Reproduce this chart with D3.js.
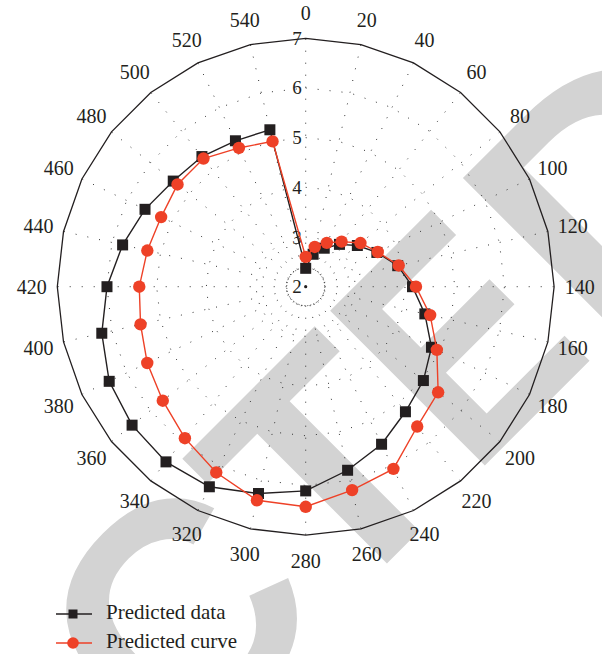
<!DOCTYPE html>
<html>
<head>
<meta charset="utf-8">
<script src="https://cdn.jsdelivr.net/npm/d3@7"></script>
<style>
  body { margin: 0; background: #fff; }
  svg { display: block; }
  .lbl { font-family: "Liberation Serif", "Times New Roman", serif; fill: #231f20; }
</style>
</head>
<body>
<div id="chart"></div>
<script>
// angle categories (units, full turn = 560)
const angles = [0, 20, 40, 60, 80, 100, 120, 140, 160, 180, 200, 220, 240, 260,
  280, 300, 320, 340, 360, 380, 400, 420, 440, 460, 480, 500, 520, 540];
const radialTicks = [2, 3, 4, 5, 6, 7];
const predictedData = [2.37, 2.67, 2.86, 3.09, 3.33, 3.59, 3.90, 4.15, 4.46, 4.81,
  5.03, 5.22, 5.52, 5.79, 6.11, 6.27, 6.47, 6.51, 6.47, 6.39, 6.21, 6.00, 5.78,
  5.59, 5.41, 5.35, 5.26, 5.24];
const predictedCurve = [2.60, 2.82, 2.98, 3.16, 3.41, 3.61, 3.92, 4.22, 4.57, 4.93,
  5.41, 5.60, 6.07, 6.20, 6.43, 6.41, 6.15, 5.90, 5.68, 5.54, 5.41, 5.35, 5.27,
  5.23, 5.30, 5.30, 5.10, 5.00];
const seriesNames = ["Predicted data", "Predicted curve"];

const width = 602, height = 654;
const cx = 305.7, cy = 286.7;
const outerR = 248.4;
const black = "#231f20", red = "#ee4127";

const svg = d3.select("#chart").append("svg")
  .attr("width", width).attr("height", height);

// watermark, drawn first so it stays behind everything
const wm = svg.append("g").attr("transform", "rotate(-45)");
[["C", -426, 1], ["T", -199, 1], ["E", -4, 0.83], ["D", 178, 1.1]].forEach(([ch, u, sx]) => {
  wm.append("text").text(ch)
    .attr("transform", `translate(${u},672) scale(${sx},1)`)
    .attr("fill", "#d3d3d3")
    .attr("font-family", "'Liberation Sans', Arial, sans-serif")
    .attr("font-weight", "bold")
    .attr("font-size", 318);
});

const a = d3.scaleLinear().domain([0, 560]).range([0, 2 * Math.PI]);
const r = d3.scaleLinear().domain([2, 7]).range([0, outerR]);

const g = svg.append("g").attr("transform", `translate(${cx},${cy})`);

const ring = d3.lineRadial()
  .angle(d => a(d))
  .curve(d3.curveLinearClosed);

// dotted spokes
angles.forEach(d => {
  const p0 = d3.pointRadial(a(d), 19), p1 = d3.pointRadial(a(d), r(7));
  g.append("line")
    .attr("x1", p0[0]).attr("y1", p0[1]).attr("x2", p1[0]).attr("y2", p1[1])
    .attr("stroke", "#333").attr("stroke-width", 1)
    .attr("stroke-dasharray", "1 11");
});

// dotted rings
[3, 4, 5, 6].forEach(v => {
  g.append("path")
    .attr("d", ring.radius(r(v))(angles))
    .attr("fill", "none").attr("stroke", "#333").attr("stroke-width", 1)
    .attr("stroke-dasharray", "1 11");
});

// small inner circle + centre dot
g.append("circle").attr("r", 19).attr("fill", "none")
  .attr("stroke", "#333").attr("stroke-width", 1).attr("stroke-dasharray", "1 2");
g.append("circle").attr("r", 1.6).attr("fill", black);

// outer border
g.append("path")
  .attr("d", ring.radius(r(7))(angles))
  .attr("fill", "none").attr("stroke", black).attr("stroke-width", 1.3);

// angle labels
g.selectAll(".alabel").data(angles).enter().append("text")
  .attr("class", "alabel lbl")
  .attr("x", d => d3.pointRadial(a(d), 274)[0])
  .attr("y", d => d3.pointRadial(a(d), 274)[1])
  .attr("text-anchor", "middle")
  .attr("dominant-baseline", "central")
  .style("font-size", "20px")
  .text(d => d);

// radial labels
g.selectAll(".rlabel").data(radialTicks).enter().append("text")
  .attr("class", "rlabel lbl")
  .attr("x", -4)
  .attr("y", d => -r(d))
  .attr("text-anchor", "end")
  .attr("dominant-baseline", "central")
  .style("font-size", "19px")
  .text(d => d);

// series
const line = d3.lineRadial()
  .angle((d, i) => a(angles[i]))
  .radius(d => r(d))
  .curve(d3.curveLinearClosed);

g.append("path").attr("d", line(predictedData))
  .attr("fill", "none").attr("stroke", black).attr("stroke-width", 1.4);
g.selectAll(".sq").data(predictedData).enter().append("rect")
  .attr("class", "sq")
  .attr("x", (d, i) => d3.pointRadial(a(angles[i]), r(d))[0] - 5.5)
  .attr("y", (d, i) => d3.pointRadial(a(angles[i]), r(d))[1] - 5.5)
  .attr("width", 11).attr("height", 11)
  .attr("fill", black);

g.append("path").attr("d", line(predictedCurve))
  .attr("fill", "none").attr("stroke", red).attr("stroke-width", 1.4);
g.selectAll(".dot").data(predictedCurve).enter().append("circle")
  .attr("class", "dot")
  .attr("cx", (d, i) => d3.pointRadial(a(angles[i]), r(d))[0])
  .attr("cy", (d, i) => d3.pointRadial(a(angles[i]), r(d))[1])
  .attr("r", 6.2)
  .attr("fill", red);

// legend
const legend = svg.append("g");
const legendItems = [
  { name: seriesNames[0], color: black, shape: "square", y: 614 },
  { name: seriesNames[1], color: red, shape: "circle", y: 643 }
];
legendItems.forEach(it => {
  legend.append("line")
    .attr("x1", 56).attr("x2", 92).attr("y1", it.y).attr("y2", it.y)
    .attr("stroke", it.color).attr("stroke-width", 1.4);
  if (it.shape === "square") {
    legend.append("rect").attr("x", 68.5).attr("y", it.y - 4.5)
      .attr("width", 9).attr("height", 9).attr("fill", it.color);
  } else {
    legend.append("circle").attr("cx", 73).attr("cy", it.y).attr("r", 5.8)
      .attr("fill", it.color);
  }
  legend.append("text").attr("class", "lbl").attr("x", 106).attr("y", it.y + 5)
    .style("font-size", "21px").text(it.name);
});
</script>
</body>
</html>
